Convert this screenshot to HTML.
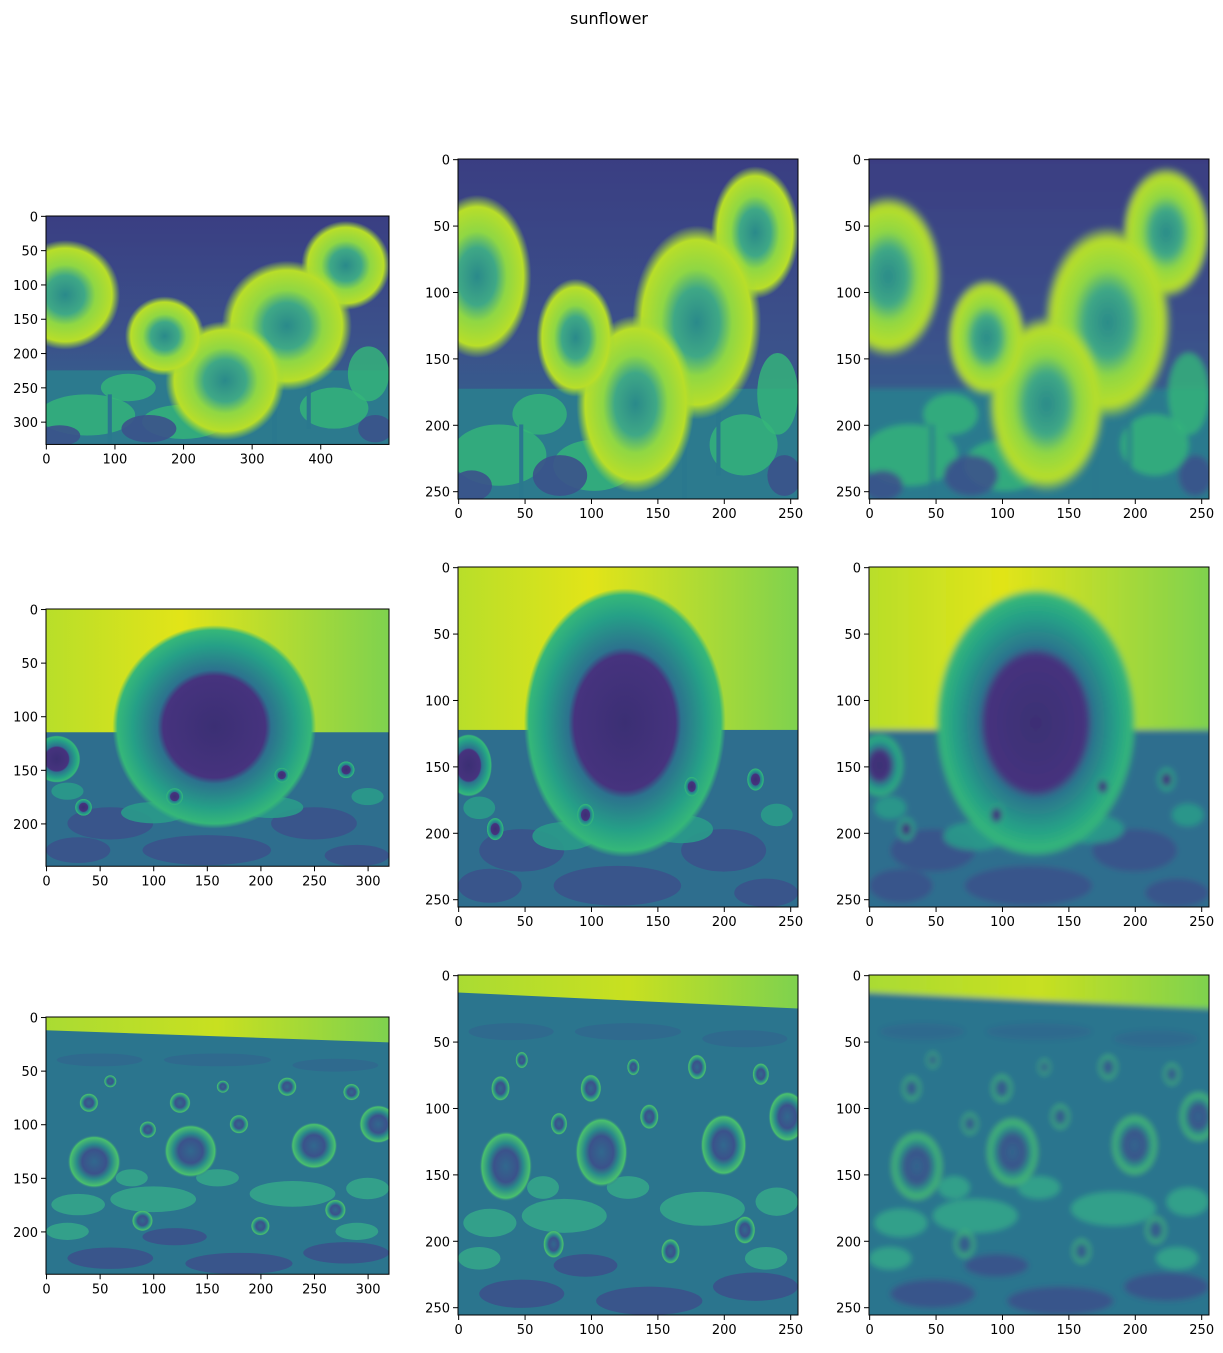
<!DOCTYPE html>
<html><head><meta charset="utf-8"><style>
html,body{margin:0;padding:0;background:#fff;}
svg text{font-family:"DejaVu Sans","Liberation Sans",sans-serif;font-size:13px;fill:#000;}
</style></head><body>
<svg id="fig" width="1223" height="1348" viewBox="0 0 1223 1348" xmlns="http://www.w3.org/2000/svg">
<defs>
<filter id="blur1" x="-5%" y="-5%" width="110%" height="110%"><feGaussianBlur stdDeviation="3"/></filter>
<radialGradient id="flA"><stop offset="0" stop-color="#2a8a8a"/><stop offset="0.35" stop-color="#3fa886"/><stop offset="0.55" stop-color="#8fd744"/><stop offset="0.85" stop-color="#b8de29"/><stop offset="1" stop-color="#9bd93c" stop-opacity="0"/></radialGradient>
<radialGradient id="flB"><stop offset="0" stop-color="#3b2f74"/><stop offset="0.5" stop-color="#46337e"/><stop offset="0.56" stop-color="#2c728e"/><stop offset="0.8" stop-color="#25a087"/><stop offset="0.95" stop-color="#35b779"/><stop offset="1" stop-color="#35b779" stop-opacity="0"/></radialGradient>
<radialGradient id="flC"><stop offset="0" stop-color="#31688e"/><stop offset="0.45" stop-color="#3b528b"/><stop offset="0.65" stop-color="#2a8a8a"/><stop offset="0.9" stop-color="#4ac16d"/><stop offset="1" stop-color="#2c728e" stop-opacity="0"/></radialGradient>
<linearGradient id="bgA" x1="0" y1="0" x2="0" y2="1"><stop offset="0" stop-color="#3a3d82"/><stop offset="0.55" stop-color="#3b528b"/><stop offset="1" stop-color="#2c728e"/></linearGradient>
<linearGradient id="skyB" x1="0" y1="0" x2="1" y2="0"><stop offset="0" stop-color="#b5de2b"/><stop offset="0.4" stop-color="#e2e418"/><stop offset="1" stop-color="#7ad151"/></linearGradient>
<linearGradient id="skyC" x1="0" y1="0" x2="1" y2="0"><stop offset="0" stop-color="#a8db34"/><stop offset="0.5" stop-color="#c8e020"/><stop offset="1" stop-color="#7ad151"/></linearGradient>
</defs>
<text x="609" y="24" text-anchor="middle" style="font-size:16px">sunflower</text>
</svg>
<script>
// image sizes (data units)
const sizesRaw = [[500,333],[320,240],[320,240]];
const sizeResized = [256,256];
// tick labels
const ticksA_x = [0,100,200,300,400];
const ticksA_y = [0,50,100,150,200,250,300];
const ticksB_x = [0,50,100,150,200,250,300];
const ticksB_y = [0,50,100,150,200];
const ticksR = [0,50,100,150,200,250];
// scene features in original image coords [cx, cy, r]
const flowersA = [[28,115,80],[437,72,65],[351,160,95],[261,240,87],[173,175,58]];
const flowersB = [[157,110,95],[10,140,22],[35,185,8],[280,150,8],[220,155,7],[120,175,8]];
const flowersC = [[45,135,25],[135,125,25],[250,120,22],[310,100,18],[40,80,9],[125,80,10],[225,65,9],[180,100,9],[95,105,8],[285,70,8],[60,60,6],[165,65,6],[270,180,10],[200,195,9],[90,190,10]];

const svg = document.getElementById('fig');
const NS = 'http://www.w3.org/2000/svg';
function mk(tag, attrs, parent){const e=document.createElementNS(NS,tag);for(const k in attrs)e.setAttribute(k,attrs[k]);(parent||svg).appendChild(e);return e;}

const layouts = [
 {x0:46,y0:216,w:343},{x0:458,y0:159,w:340},{x0:869,y0:159,w:340},
 {x0:46,y0:609,w:343},{x0:458,y0:567,w:340},{x0:869,y0:567,w:340},
 {x0:46,y0:1017,w:343},{x0:458,y0:975,w:340},{x0:869,y0:975,w:340}
];
const scenes=['A','B','C'];
const sceneFlowers={A:flowersA,B:flowersB,C:flowersC};

layouts.forEach((L,i)=>{
  const row=Math.floor(i/3), col=i%3;
  const raw=sizesRaw[row];
  const W = col===0?raw[0]:sizeResized[0];
  const H = col===0?raw[1]:sizeResized[1];
  const s = L.w/W, h = H*s;
  const sx = W/raw[0], sy = H/raw[1];
  const X = v => L.x0 + (v+0.5)*s;
  const Y = v => L.y0 + (v+0.5)*s;
  const g = mk('g',{});
  
  
  const cid='clip'+i;
  const cp=mk('clipPath',{id:cid},svg); mk('rect',{x:L.x0,y:L.y0,width:L.w,height:h},cp);
  const img=mk('g',{'clip-path':'url(#'+cid+')'},g);
  const inner=mk('g',col===2?{filter:'url(#blur1)'}:{},img);
  const scene=scenes[row];
  const DX=v=>L.x0+v*sx*s, DY=v=>L.y0+v*sy*s;
  const ell=(l,fill,op)=>mk('ellipse',{cx:DX(l[0]),cy:DY(l[1]),rx:l[2]*sx*s,ry:l[3]*sy*s,fill:fill,opacity:op},inner);
  if(scene==='A'){
    mk('rect',{x:L.x0-10,y:L.y0-10,width:L.w+20,height:h+20,fill:'url(#bgA)'},inner);
    mk('rect',{x:L.x0-10,y:DY(225),width:L.w+20,height:h,fill:'#2c7a8e'},inner);
    [[60,290,70,30],[200,300,60,25],[420,280,50,30],[120,250,40,20],[470,230,30,40]].forEach(l=>ell(l,'#35b779',0.8));
    [[150,310,40,20],[20,320,30,15],[480,310,25,20]].forEach(l=>ell(l,'#3b528b',0.9));
    [[380,250],[330,300],[90,320]].forEach(p=>mk('rect',{x:DX(p[0]),y:DY(p[1])-60*sy*s,width:6*sx*s,height:120*sy*s,fill:'#2a788e'},inner));
  } else if(scene==='B'){
    mk('rect',{x:L.x0-10,y:L.y0-10,width:L.w+20,height:h+20,fill:'url(#skyB)'},inner);
    mk('rect',{x:L.x0-10,y:DY(115),width:L.w+20,height:h,fill:'#2e6e8e'},inner);
    [[60,200,40,15],[250,200,40,15],[150,225,60,14],[30,225,30,12],[290,230,30,10]].forEach(l=>ell(l,'#3b528b',0.9));
    [[100,190,30,10],[210,185,30,10],[20,170,15,8],[300,175,15,8]].forEach(l=>ell(l,'#2a9a89',0.9));
  } else {
    mk('rect',{x:L.x0-10,y:L.y0-10,width:L.w+20,height:h+20,fill:'#2b758e'},inner);
    mk('polygon',{points:[L.x0-10,L.y0-10,L.x0+L.w+10,L.y0-10,L.x0+L.w+10,DY(24),L.x0-10,DY(12)].join(' '),fill:'url(#skyC)'},inner);
    [[60,225,40,10],[180,230,50,10],[280,220,40,10],[120,205,30,8]].forEach(l=>ell(l,'#3b528b',0.9));
    [[100,170,40,12],[230,165,40,12],[30,175,25,10],[300,160,20,10],[160,150,20,8],[80,150,15,8],[290,200,20,8],[20,200,20,8]].forEach(l=>ell(l,'#35a88a',0.85));
    [[50,40,40,6],[160,40,50,6],[270,45,40,6]].forEach(l=>ell(l,'#31688e',0.8));
  }
  const grad = scene==='A'?'flA':scene==='B'?'flB':'flC';
  sceneFlowers[scene].forEach(f=>{
    const e=mk('ellipse',{cx:DX(f[0]),cy:DY(f[1]),rx:f[2]*sx*s,ry:f[2]*sy*s,fill:'url(#'+grad+')'},inner);
    
    
  });
  const fr=mk('rect',{x:L.x0,y:L.y0,width:L.w,height:h,fill:'none',stroke:'#000','stroke-width':1},g);
  
  
  const xt = col===0?(row===0?ticksA_x:ticksB_x):ticksR;
  const yt = col===0?(row===0?ticksA_y:ticksB_y):ticksR;
  xt.forEach(v=>{
    const x=X(v), yb=L.y0+h;
    mk('line',{x1:x,y1:yb,x2:x,y2:yb+5,stroke:'#000','stroke-width':1},g);
    const t=mk('text',{x:x,y:yb+19,'text-anchor':'middle'},g); t.textContent=v;
    
    
  });
  yt.forEach(v=>{
    const y=Y(v);
    mk('line',{x1:L.x0,y1:y,x2:L.x0-5,y2:y,stroke:'#000','stroke-width':1},g);
    const t=mk('text',{x:L.x0-8,y:y+5,'text-anchor':'end'},g); t.textContent=v;
    
    
  });
});
</script>
</body></html>
